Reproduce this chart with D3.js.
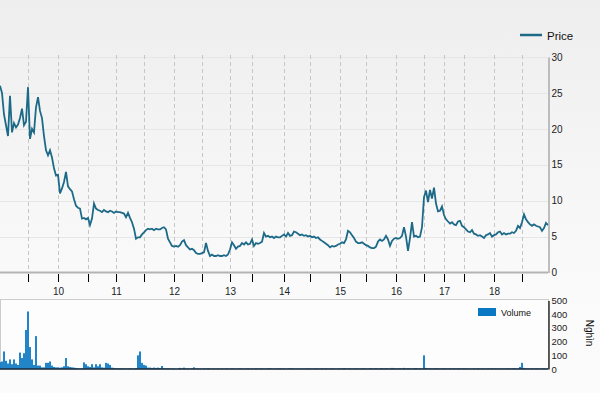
<!DOCTYPE html>
<html>
<head>
<meta charset="utf-8">
<script src="https://cdn.jsdelivr.net/npm/d3@7/dist/d3.min.js"></script>
<style>
    body { margin: 0; padding: 0; background: #f4f4f4; }
    svg { display: block; font-family: 'Liberation Sans', Arial, sans-serif; }
</style>
</head>
<body>
<svg id="chart" width="600" height="393"></svg>
<script>
// price per sample (one sample every ~2 px of the original)
var price = [
    26, 25, 22, 20.5, 19, 24.6, 19.5, 20.8, 20.2, 20.6,
    21.5, 22.8, 20.5, 21, 25.8, 18.6, 20, 19.5, 23, 24.4,
    22.5, 21.5, 19, 17, 16.3, 17, 16, 14.5, 13.5, 13.6,
    11, 11.7, 12.6, 14, 12, 11.6, 11.3, 10.2, 9.3, 9,
    8.9, 7.5, 7.6, 7.4, 7.6, 6.6, 7.5, 9.6, 8.9, 8.7,
    8.6, 8.4, 8.7, 8.5, 8.4, 8.6, 8.5, 8.3, 8.5, 8.4,
    8.4, 8.3, 8.2, 7.7, 8.3, 7.6, 7.0, 6.1, 4.7, 4.9,
    4.9, 5.3, 5.6, 5.9, 6.1, 6.0, 6.1, 5.9, 6.1, 6.0,
    6.0, 6.2, 6.3, 6.0, 4.7, 4.2, 3.7, 3.6, 3.7, 3.6,
    3.8, 4.3, 4.5, 3.8, 3.5, 3.2, 3.3, 3.1, 2.7, 2.6,
    2.6, 2.7, 2.8, 4.1, 3.0, 2.3, 2.5, 2.3, 2.3, 2.4,
    2.3, 2.3, 2.4, 2.3, 2.5, 3.2, 4.2, 3.8, 3.3, 3.6,
    3.7, 4.1, 3.9, 4.2, 3.9, 4.0, 4.6, 3.7, 4.1, 4.0,
    4.1, 4.3, 5.5, 5.0, 5.1, 4.9, 5.0, 4.8, 5.0, 4.9,
    4.9, 5.1, 5.3, 5.0, 5.5, 5.1, 5.2, 5.7, 5.6, 5.4,
    5.2, 5.3, 5.1, 5.2, 5.0, 5.1, 4.9, 5.0, 4.8, 4.9,
    4.6, 4.4, 4.2, 4.0, 3.8, 3.5, 3.7, 3.6, 3.7, 3.9,
    4.0, 4.2, 4.1, 4.6, 5.8, 5.6, 5.2, 4.8, 4.3, 4.1,
    4.1, 4.2, 4.0, 3.8, 3.7, 3.5, 3.4, 3.4, 3.6, 4.3,
    4.6, 4.4, 4.6, 5.1, 4.6, 3.7, 4.4, 4.7, 4.8, 4.7,
    4.8, 5.1, 6.3, 5.0, 3.0, 4.8, 7.0, 5.0, 5.1, 4.9,
    5.0, 6.3, 10.5, 11.4, 9.8, 11.5, 10.3, 11.8, 9.6, 8.5,
    8.6, 9.2, 8.0, 7.4, 7.1, 6.8, 7.0, 6.7, 6.6, 7.1,
    7.2, 6.5, 6.3, 6.0, 5.7, 5.6, 5.9, 5.4, 5.3, 5.1,
    5.2, 5.0, 4.8, 5.2, 5.3, 5.5, 5.0, 5.2, 5.3, 5.6,
    5.7, 5.3, 5.5, 5.3, 5.4, 5.4, 5.6, 5.5, 5.8, 6.5,
    6.2, 7.0, 8.1, 7.4, 7.0, 6.7, 6.5, 6.7, 6.5, 6.4,
    6.3, 5.8, 6.2, 6.9, 6.6
];

// volume per sample, thousands
var volume = [
    50, 55, 128, 60, 40, 70, 35, 70, 40, 30,
    120, 80, 115, 285, 420, 160, 70, 30, 240, 25,
    25, 12, 12, 45, 45, 55, 25, 15, 12, 12,
    10, 12, 20, 80, 20, 15, 12, 10, 8, 4,
    4, 4, 48, 35, 20, 15, 35, 12, 35, 20,
    35, 12, 10, 45, 40, 30, 10, 8, 5, 5,
    5, 4, 5, 3, 4, 5, 4, 3, 6, 100,
    128, 45, 30, 25, 10, 10, 8, 10, 8, 10,
    6, 22, 5, 4, 5, 4, 3, 4, 0, 3,
    8, 4, 10, 3, 4, 3, 5, 12, 3, 4,
    3, 2, 4, 2, 6, 3, 2, 3, 2, 4,
    2, 3, 2, 4, 3, 2, 5, 3, 2, 3,
    4, 3, 2, 3, 5, 2, 3, 2, 4, 3,
    3, 5, 2, 3, 4, 6, 3, 2, 3, 4,
    5, 3, 4, 2, 3, 6, 4, 3, 2, 3,
    3, 2, 4, 3, 5, 3, 2, 3, 4, 2,
    3, 4, 2, 5, 3, 2, 4, 3, 2, 3,
    4, 3, 6, 4, 3, 5, 2, 3, 4, 3,
    3, 4, 5, 3, 2, 6, 4, 3, 5, 3,
    4, 6, 3, 5, 4, 3, 8, 5, 3, 4,
    5, 4, 8, 3, 6, 4, 3, 5, 7, 4,
    5, 3, 100, 8, 4, 5, 3, 4, 6, 3,
    4, 3, 5, 4, 3, 5, 3, 4, 3, 5,
    4, 3, 5, 3, 4, 3, 2, 4, 3, 5,
    3, 4, 3, 2, 4, 3, 5, 3, 4, 3,
    4, 3, 2, 4, 5, 3, 4, 6, 3, 4,
    15, 45, 8, 4, 5, 3, 4, 3, 5, 4,
    3, 4, 5, 3, 4
];

// half-year ticks (sample index) and their labels
var tickIndex = [14, 29, 44, 58, 72, 87, 101, 115, 126, 142, 155, 170, 183, 198, 212, 222, 232, 247, 261];
var tickLabel = ['', '10', '', '11', '', '12', '', '13', '', '14', '', '15', '', '16', '', '17', '', '18', ''];
var priceTicks = [0, 5, 10, 15, 20, 25, 30];
var volumeTicks = [0, 100, 200, 300, 400, 500];

var lineColor = '#1d6a88';
var barColor = '#0a78c2';

var svg = d3.select('#chart');
var W = 600, H = 393;
var plotRight = 548;

var defs = svg.append('defs');
var grad = defs.append('linearGradient').attr('id', 'bg').attr('x1', 0).attr('y1', 0).attr('x2', 0).attr('y2', 1);
grad.append('stop').attr('offset', '0%').attr('stop-color', '#eeeeee');
grad.append('stop').attr('offset', '72%').attr('stop-color', '#fafafa');
grad.append('stop').attr('offset', '100%').attr('stop-color', '#fbfbfb');

svg.append('rect').attr('width', W).attr('height', H).attr('fill', 'url(#bg)');

var x = d3.scaleLinear().domain([0, price.length - 1]).range([0, plotRight]);
var yPrice = d3.scaleLinear().domain([0, 30]).range([272.5, 57]);
var yVol = d3.scaleLinear().domain([0, 500]).range([369, 300.5]);

// ---- price panel ----
var grid = svg.append('g');
grid.selectAll('line.h').data(priceTicks.slice(1)).enter().append('line')
    .attr('x1', 0).attr('x2', plotRight)
    .attr('y1', function (d) { return Math.round(yPrice(d)) + 0.5; })
    .attr('y2', function (d) { return Math.round(yPrice(d)) + 0.5; })
    .attr('stroke', '#e6e6e6').attr('stroke-width', 1);

grid.selectAll('line.v').data(tickIndex).enter().append('line')
    .attr('x1', function (d) { return Math.round(x(d)) + 0.5; })
    .attr('x2', function (d) { return Math.round(x(d)) + 0.5; })
    .attr('y1', 55).attr('y2', 271)
    .attr('stroke', '#c6c6c6').attr('stroke-width', 1)
    .attr('stroke-dasharray', '4,3');

var line = d3.line()
    .x(function (d, i) { return x(i); })
    .y(function (d) { return yPrice(d); });

svg.append('path').datum(price)
    .attr('d', line)
    .attr('fill', 'none')
    .attr('stroke', lineColor)
    .attr('stroke-width', 1.8)
    .attr('stroke-linejoin', 'miter');

// x axis line + ticks
svg.append('line').attr('x1', 0).attr('x2', plotRight).attr('y1', 272.5).attr('y2', 272.5)
    .attr('stroke', '#b4b4b4').attr('stroke-width', 2);

var xAxis = d3.axisBottom(x)
    .tickValues(tickIndex)
    .tickSize(8)
    .tickPadding(6)
    .tickFormat(function (d, i) { return tickLabel[i]; });

var gx = svg.append('g').attr('transform', 'translate(0,274)').call(xAxis);
gx.select('.domain').remove();
gx.selectAll('.tick line').attr('stroke', '#000');
gx.selectAll('.tick text').attr('fill', '#222').style('font-size', '10px');

// right price axis
var yAxis = d3.axisRight(yPrice).tickValues(priceTicks).tickSize(0).tickPadding(3);
var gy = svg.append('g').attr('transform', 'translate(' + (plotRight + 0.5) + ',0)').call(yAxis);
gy.select('.domain').attr('stroke', '#aaaaaa').attr('stroke-width', 1.5);
gy.selectAll('.tick text').attr('fill', '#222').style('font-size', '10px');

// price legend
svg.append('line').attr('x1', 520).attr('x2', 542).attr('y1', 35).attr('y2', 35)
    .attr('stroke', lineColor).attr('stroke-width', 2.5);
svg.append('text').attr('x', 547).attr('y', 40).text('Price')
    .attr('fill', '#111').style('font-size', '11.5px');

// ---- volume panel ----
svg.append('rect').attr('x', 0.5).attr('y', 299.5).attr('width', plotRight).attr('height', 69.5)
    .attr('fill', '#fdfdfd').attr('stroke', '#cccccc').attr('stroke-width', 1);

svg.append('g').selectAll('rect').data(volume).enter().append('rect')
    .attr('x', function (d, i) { return x(i) - 0.9; })
    .attr('width', 1.8)
    .attr('y', function (d) { return yVol(d); })
    .attr('height', function (d) { return yVol(0) - yVol(d); })
    .attr('fill', barColor);

svg.append('line').attr('x1', 0).attr('x2', plotRight).attr('y1', 369).attr('y2', 369)
    .attr('stroke', '#1a2a3a').attr('stroke-width', 1.5);

var vAxis = d3.axisRight(yVol).tickValues(volumeTicks).tickSize(0).tickPadding(3);
var gv = svg.append('g').attr('transform', 'translate(' + (plotRight + 0.5) + ',0)').call(vAxis);
gv.select('.domain').attr('stroke', '#000').attr('stroke-width', 1.2);
gv.selectAll('.tick text').attr('fill', '#222').style('font-size', '9.5px');

svg.append('text')
    .attr('transform', 'translate(586,333) rotate(90)')
    .attr('text-anchor', 'middle')
    .attr('fill', '#111')
    .style('font-size', '10px')
    .text('Nghìn');

// volume legend
svg.append('rect').attr('x', 478).attr('y', 308).attr('width', 18).attr('height', 8).attr('fill', barColor);
svg.append('text').attr('x', 501).attr('y', 316).text('Volume')
    .attr('fill', '#111').style('font-size', '9px');
</script>
</body>
</html>
